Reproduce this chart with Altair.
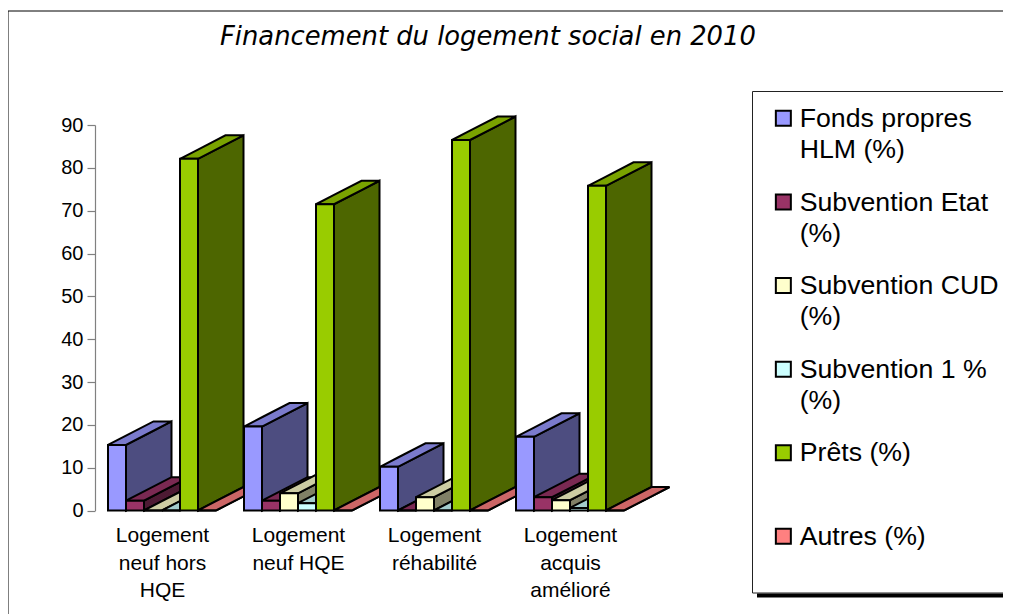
import json
import altair as alt
import pandas as pd

title_text = "Financement du logement social en 2010"
categories = [["Logement", "neuf hors", "HQE"], ["Logement", "neuf HQE"],
              ["Logement", "réhabilité"], ["Logement", "acquis", "amélioré"]]
series = ["Fonds propres HLM (%)", "Subvention Etat (%)", "Subvention CUD (%)",
          "Subvention 1 % (%)", "Prêts (%)", "Autres (%)"]
legend_lines = [["Fonds propres", "HLM (%)"], ["Subvention Etat", "(%)"], ["Subvention CUD", "(%)"],
                ["Subvention 1 %", "(%)"], ["Prêts (%)", " "], ["Autres (%)", " "]]
fonds = [15.3, 19.6, 10.2, 17.2]
etat = [2.3, 2.3, 0, 3.1]
cud = [0, 4.0, 3.1, 2.4]
un_pct = [0, 1.7, 0, 0.6]
prets = [82.1, 71.5, 86.5, 75.8]
autres = [0, 0, 0, 0]
values = [fonds, etat, cud, un_pct, prets, autres]
front_colors = ["#9999FF", "#993366", "#FFFFCC", "#CCFFFF", "#99CC00", "#FF8080"]
top_colors = ["#7A7ACC", "#7A2952", "#CCCCA3", "#A3CCCC", "#7AA300", "#CC6666"]
side_colors = ["#4D4D80", "#4D1A33", "#808066", "#668080", "#4D6600", "#804040"]

GROUP_STEP = 136 / 18
DX = 45.5 / 18
DY = 23.5 / 4.283

rows = []
poly = 0
def add(face, pts):
    global poly
    poly += 1
    for x, lo, hi in pts:
        rows.append({"x": x, "y": lo, "y2": hi, "face": face, "poly": poly})

for g in range(len(categories)):
    for s, name in enumerate(series):
        v = values[s][g]
        x0 = g * GROUP_STEP + s
        x1 = x0 + 1
        add(name + " côté", [(x1, 0, v), (x1 + DX, DY, v + DY)])
        add(name + " dessus", [(x0, v, v), (x1, v, v + DY / DX), (x0 + DX, v + DY - DY / DX, v + DY), (x1 + DX, v + DY, v + DY)])
        add(name, [(x0, 0, v), (x1, 0, v)])
df = pd.DataFrame(rows)

domain = series + [n + " côté" for n in series] + [n + " dessus" for n in series]
rng = front_colors + side_colors + top_colors

centers = [round(g * GROUP_STEP + 3, 3) for g in range(len(categories))]
cat_expr = json.dumps({f"{c:.3f}": lines for c, lines in zip(centers, categories)})
leg_expr = json.dumps(dict(zip(series, legend_lines)))

FONT = "Liberation Sans"
PAD_TOP = 50
H = 556
W = 995
LABEL_DY = -12.4

x_scale = alt.Scale(domain=[0, 50], range=[100, 1000])
y_scale = alt.Scale(domain=[0, 90], range=[452.5, 67])

bars = alt.Chart(df).mark_area(orient="vertical", stroke="black", strokeWidth=2, strokeJoin="miter").encode(
    x=alt.X("x:Q", scale=x_scale, axis=alt.Axis(
        title=None, orient="bottom", offset=-(H - 452.5), values=centers, ticks=False, domain=False, grid=False,
        labelExpr=f"{cat_expr}[format(datum.value, '.3f')]", labelFont=FONT, labelFontSize=21, labelColor="#000",
        labelLineHeight=27.5, labelPadding=14 - LABEL_DY, labelBaseline="top", labelAngle=0, labelAlign="center",
        labelOverlap=False, labelFlush=False)),
    y=alt.Y("y:Q", scale=y_scale, axis=alt.Axis(
        title=None, orient="left", offset=-87, values=list(range(0, 100, 10)), grid=False, tickSize=8,
        tickColor="#808080", domainColor="#808080", tickWidth=1.2, domainWidth=1.2, labelFont=FONT,
        labelFontSize=20, labelColor="#000", labelPadding=4, labelFlush=False, labelOverlap=False,
        labelOffset=-LABEL_DY)),
    y2="y2:Q",
    detail="poly:N",
    color=alt.Color("face:N", scale=alt.Scale(domain=domain, range=rng), legend=alt.Legend(
        title=None, orient="none", legendX=762, legendY=47, values=series, symbolType="square", symbolSize=225,
        symbolStrokeColor="black", symbolStrokeWidth=2, symbolOpacity=1, labelFont=FONT, labelFontSize=26.7,
        labelColor="#000", labelLimit=300, labelOffset=3, labelBaseline="top", rowPadding=24.6,
        labelExpr=f"{leg_expr}[datum.label]")),
)

def frame(x, x2, y, y2, **kw):
    return alt.Chart(pd.DataFrame({"k": [0]})).mark_rect(**kw).encode(
        x=alt.value(x), x2=alt.value(x2), y=alt.value(y), y2=alt.value(y2))

outer = frame(0, 1100, 11 - 8 - PAD_TOP, 700, fillOpacity=0, stroke="black", strokeWidth=1)
legend_box = frame(744.5, 1100, 91.5 - 8 - PAD_TOP, 593 - 8 - PAD_TOP, fillOpacity=0, stroke="#222", strokeWidth=1)
shadow = frame(749, 1100, 593.5 - 8 - PAD_TOP, 597.5 - 8 - PAD_TOP, fill="black")

chart = alt.layer(outer, legend_box, shadow, bars).properties(
    width=W, height=H, padding={"left": 0, "top": PAD_TOP, "right": 0, "bottom": 0},
    autosize=alt.AutoSizeParams(type="none"),
    background="white",
    title=alt.TitleParams(title_text, anchor="start", frame="group", font="DejaVu Sans", fontStyle="italic",
                          fontWeight="normal", fontSize=25.8, color="#000", dx=212, dy=69, offset=4, baseline="bottom"),
).configure(style={"guide-label": {"lineHeight": 31, "dy": LABEL_DY}}).configure_view(stroke=None)

chart.save("out.html", embed_options={"renderer": "svg", "actions": False})
